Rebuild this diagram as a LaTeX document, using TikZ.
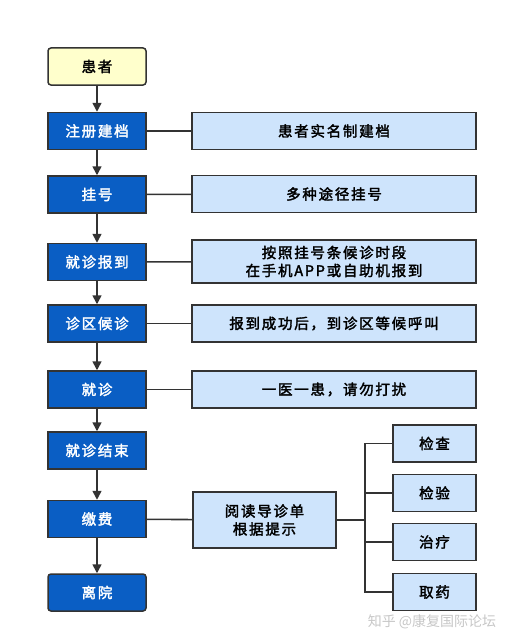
\documentclass[tikz,border=0pt]{standalone}
\usepackage{fontspec}
\setmainfont{Noto Sans CJK SC}[AutoFakeBold=2.2]
\usetikzlibrary{arrows.meta}

\definecolor{stepblue}{RGB}{10,94,196}
\definecolor{noteblue}{RGB}{206,228,252}
\definecolor{startyellow}{RGB}{255,255,204}
\definecolor{edgegray}{RGB}{51,51,51}

\tikzset{
  stepbox/.style={draw=edgegray, line width=1.5pt, fill=stepblue, text=white,
    minimum width=98pt, minimum height=37pt, inner sep=0pt,
    font=\fontsize{14.5}{17}\selectfont\bfseries\addfontfeature{LetterSpace=12}},
  notebox/.style={draw=edgegray, line width=1.5pt, fill=noteblue, text=black,
    minimum width=284pt, minimum height=37pt, inner sep=0pt, align=center,
    font=\fontsize{14.5}{18}\selectfont\bfseries\addfontfeature{LetterSpace=12}},
  smallbox/.style={notebox, minimum width=83pt},
  flow/.style={draw=edgegray, line width=1.6pt, -{Triangle[length=9pt,width=9pt]}},
  link/.style={draw=edgegray, line width=1.6pt}
}

\begin{document}
\begin{tikzpicture}[x=1pt,y=-1pt]
\useasboundingbox (0,0) rectangle (510,642);
% left column
\node[stepbox, fill=startyellow, text=black, rounded corners=3pt] (patient) at (97,66.5) {患者};
\node[stepbox] (reg) at (97,131) {注册建档};
\node[stepbox] (book) at (97,194.5) {挂号};
\node[stepbox] (checkin) at (97,262) {就诊报到};
\node[stepbox] (wait) at (97,323.5) {诊区候诊};
\node[stepbox] (visit) at (97,389.5) {就诊};
\node[stepbox] (done) at (97,450.5) {就诊结束};
\node[stepbox] (pay) at (97,519) {缴费};
\node[stepbox, rounded corners=3pt] (leave) at (97,592.5) {离院};
% notes
\node[notebox] (regnote) at (334,131) {患者实名制建档};
\node[notebox] (booknote) at (334,194) {多种途径挂号};
\node[notebox, minimum height=43pt] (checkinnote) at (334,261.5) {按照挂号条候诊时段\\在手机APP或自助机报到};
\node[notebox] (waitnote) at (334,323.5) {报到成功后，到诊区等候呼叫};
\node[notebox] (visitnote) at (334,389.5) {一医一患，请勿打扰};
\node[notebox, minimum width=143pt, minimum height=56pt] (guide) at (264.5,520) {阅读导诊单\\根据提示};
\node[smallbox] (exam) at (434.5,443.5) {检查};
\node[smallbox] (test) at (434.5,493) {检验};
\node[smallbox] (treat) at (434.5,542) {治疗};
\node[smallbox] (drug) at (434.5,592) {取药};
\coordinate (fork) at (365,520);
% flow
\foreach \a/\b in {patient/reg, reg/book, book/checkin, checkin/wait,
                   wait/visit, visit/done, done/pay, pay/leave}
  \draw[flow] (\a) -- (\b);
\foreach \a/\b in {reg/regnote, book/booknote, checkin/checkinnote,
                   wait/waitnote, visit/visitnote, pay/guide}
  \draw[link] (\a) -- (\b);
\draw[link] (guide) -- (fork);
\foreach \t in {exam, test, treat, drug}
  \draw[link] (fork) |- (\t.west);
% watermark
\node[text=black!22, font=\fontsize{14}{16}\selectfont] (mark) at (432,622) {知乎 @康复国际论坛};
\end{tikzpicture}
\end{document}
